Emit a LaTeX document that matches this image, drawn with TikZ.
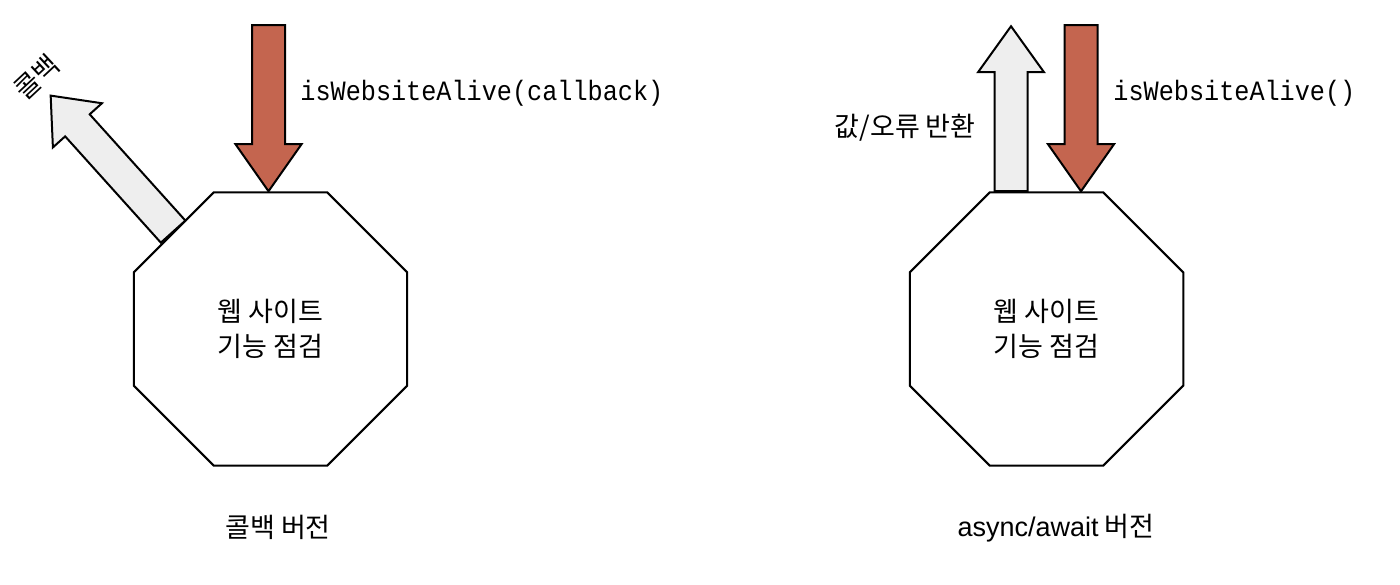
\documentclass[tikz,border=0pt]{standalone}
\usepackage{fontspec}
\setmainfont{Noto Sans CJK KR}
\newfontfamily\latinfont{Liberation Sans}
\newfontfamily\codefont[FakeStretch=0.9]{Liberation Mono}
\usepackage{tikz}
\usetikzlibrary{shapes.geometric,calc}

\definecolor{callred}{RGB}{196,101,79}
\definecolor{retgray}{RGB}{238,238,238}

\tikzset{
    octa/.style={draw, line width=1pt, regular polygon, regular polygon sides=8,
        minimum size=148pt, inner sep=0pt, align=center,
        font=\fontsize{13.5}{17.5}\selectfont},
    lbl/.style={font=\fontsize{13.5}{15}\selectfont, inner sep=0pt},
    codelbl/.style={font=\codefont\fontsize{14}{16}\selectfont, inner sep=0pt},
    redarrow/.style={draw, line width=1pt, fill=callred},
    grayarrow/.style={draw, line width=1pt, fill=retgray}
}

% block arrow: style, base, angle, length, head length
\newcommand{\blockarrow}[5]{%
    \begin{scope}[shift={#2}, rotate=#3]
        \draw[#1] (0,-16.5) -- (#4-#5,-16.5) -- (#4-#5,-33) -- (#4,0)
            -- (#4-#5,33) -- (#4-#5,16.5) -- (0,16.5) -- cycle;
    \end{scope}}

\begin{document}
\begin{tikzpicture}[x=0.5pt, y=0.5pt]

\useasboundingbox (0,0) rectangle (1400,584);

% Octagons
\node[octa] (L) at (270.5,255) {웹 사이트\\기능 점검};
\node[octa] (R) at (1046.5,255) {웹 사이트\\기능 점검};

% Callback version
\blockarrow{redarrow}{($(L.north)+(-2,166)$)}{-90}{166}{47}
\blockarrow{grayarrow}{(L.135)}{132}{183}{40}
\node[codelbl, anchor=base west] (callL) at (300,483) {isWebsiteAlive(callback)};
\node[lbl, rotate=43] (cbL) at (37,507) {콜백};

% async/await version
\blockarrow{grayarrow}{($(R.north)+(-35.5,0)$)}{90}{165}{46}
\blockarrow{redarrow}{($(R.north)+(34.5,166)$)}{-90}{166}{47}
\node[codelbl, anchor=base west] (callR) at (1113,483) {isWebsiteAlive()};
\node[lbl, anchor=east] (retR) at (976,456) {값/오류 반환};

% Captions
\node[lbl] (capL) at (278,57) {콜백 버전};
\node[lbl] (capR) at (1056,56) {{\latinfont async/await} 버전};

\end{tikzpicture}
\end{document}
